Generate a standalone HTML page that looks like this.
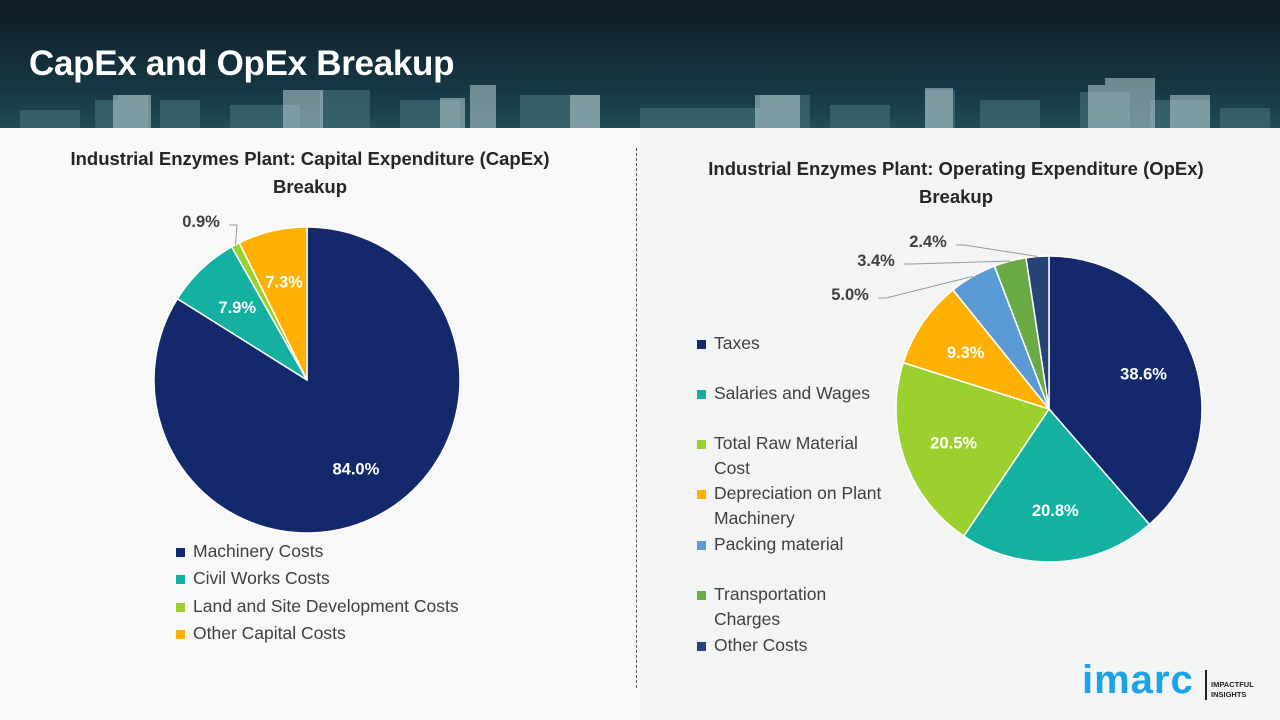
<!DOCTYPE html>
<html><head><meta charset="utf-8">
<style>
body{margin:0;width:1280px;height:720px;overflow:hidden;font-family:"Liberation Sans",sans-serif;background:#f5f5f5;position:relative}
#hdr{position:absolute;left:0;top:0;width:1280px;height:128px;background:linear-gradient(#0e1b23,#163845 70%,#1f4c57)}
#hdr h1{position:absolute;left:29px;top:44px;margin:0;color:#fff;font-size:35px;font-weight:bold;letter-spacing:-0.3px}
.ct{position:absolute;font-weight:bold;font-size:18.5px;color:#262626;text-align:center;line-height:28px}
.leg{position:absolute;font-size:17.5px;color:#404040;line-height:25px}
.leg div{position:relative;padding-left:17px}
.leg span.sw{position:absolute;left:0;top:9px;width:9px;height:9px}
</style></head><body>
<div id="hdr">
<svg width="1280" height="128" style="position:absolute;left:0;top:0">
<g fill="#3e6b75" opacity="0.7">
<rect x="20" y="110" width="60" height="18"/><rect x="95" y="100" width="30" height="28"/><rect x="118" y="95" width="30" height="33"/>
<rect x="160" y="100" width="40" height="28"/><rect x="230" y="105" width="70" height="23"/><rect x="320" y="90" width="50" height="38"/>
<rect x="400" y="100" width="60" height="28"/><rect x="520" y="95" width="80" height="33"/><rect x="640" y="108" width="120" height="20"/>
<rect x="760" y="95" width="50" height="33"/><rect x="830" y="105" width="60" height="23"/><rect x="925" y="90" width="30" height="38"/>
<rect x="980" y="100" width="60" height="28"/><rect x="1080" y="92" width="50" height="36"/><rect x="1150" y="100" width="60" height="28"/><rect x="1220" y="108" width="50" height="20"/>
</g>
<g fill="#b9cfd3" opacity="0.55">
<rect x="113" y="95" width="38" height="33"/><rect x="283" y="90" width="40" height="38"/><rect x="440" y="98" width="25" height="30"/>
<rect x="470" y="85" width="26" height="43"/><rect x="570" y="95" width="30" height="33"/><rect x="755" y="95" width="45" height="33"/>
<rect x="925" y="88" width="28" height="40"/><rect x="1088" y="85" width="30" height="43"/><rect x="1105" y="78" width="50" height="50"/><rect x="1170" y="95" width="40" height="33"/>
</g></svg>
<h1>CapEx and OpEx Breakup</h1>
</div>
<div style="position:absolute;left:0;top:128px;width:640px;height:592px;background:#f8f8f8"></div>
<div style="position:absolute;left:640px;top:128px;width:640px;height:592px;background:#f3f4f4"></div>
<div style="position:absolute;left:636px;top:148px;height:540px;border-left:1.5px dashed #555"></div>

<div class="ct" style="left:20px;top:145px;width:580px">Industrial Enzymes Plant: Capital Expenditure (CapEx)<br>Breakup</div>
<div class="ct" style="left:666px;top:155px;width:580px">Industrial Enzymes Plant: Operating Expenditure (OpEx)<br>Breakup</div>

<svg id="chart" width="1280" height="720" style="position:absolute;left:0;top:0"></svg>

<div class="leg" style="left:176px;top:538px;line-height:27.3px">
<div><span class="sw" style="background:#13296b;top:10px"></span>Machinery Costs</div>
<div><span class="sw" style="background:#14b1a1;top:10px"></span>Civil Works Costs</div>
<div><span class="sw" style="background:#9bd02f;top:10px"></span>Land and Site Development Costs</div>
<div><span class="sw" style="background:#ffb000;top:10px"></span>Other Capital Costs</div>
</div>
<div class="leg" style="left:697px;top:331px;width:200px">
<div style="height:50px"><span class="sw" style="background:#13296b"></span>Taxes</div>
<div style="height:50px"><span class="sw" style="background:#14b1a1"></span>Salaries and Wages</div>
<div style="height:50px"><span class="sw" style="background:#9bd02f"></span>Total Raw Material Cost</div>
<div style="height:51px"><span class="sw" style="background:#ffb000"></span>Depreciation on Plant Machinery</div>
<div style="height:50px"><span class="sw" style="background:#5b9bd5"></span>Packing material</div>
<div style="height:51px"><span class="sw" style="background:#6aab45"></span>Transportation Charges</div>
<div><span class="sw" style="background:#264478"></span>Other Costs</div>
</div>

<div style="position:absolute;left:1082px;top:658px;font-size:40px;font-weight:bold;color:#1aa3e8;letter-spacing:1px">imarc</div>
<div style="position:absolute;left:1205px;top:670px;height:30px;border-left:2px solid #222"></div>
<div style="position:absolute;left:1211px;top:680px;font-size:7.5px;font-weight:bold;color:#222;line-height:10px">IMPACTFUL<br>INSIGHTS</div>

<script>
const capexCategories=["Machinery Costs","Civil Works Costs","Land and Site Development Costs","Other Capital Costs"];
const capexValues=[84.0,7.9,0.9,7.3];
const capexColors=["#13296b","#14b1a1","#9bd02f","#ffb000"];
const opexCategories=["Taxes","Salaries and Wages","Total Raw Material Cost","Depreciation on Plant Machinery","Packing material","Transportation Charges","Other Costs"];
const opexValues=[38.6,20.8,20.5,9.3,5.0,3.4,2.4];
const opexColors=["#13296b","#14b1a1","#9bd02f","#ffb000","#5b9bd5","#6aab45","#264478"];
const NS="http://www.w3.org/2000/svg";
const svg=document.getElementById('chart');
function pt(cx,cy,r,a){return [cx+r*Math.sin(a),cy-r*Math.cos(a)];}
function pie(cx,cy,R,vals,cols,cats,prefix,outside){
  const tot=vals.reduce((a,b)=>a+b,0);let a0=0;
  vals.forEach((v,i)=>{
    const a1=a0+v/tot*2*Math.PI;
    const p0=pt(cx,cy,R,a0),p1=pt(cx,cy,R,a1);
    const path=document.createElementNS(NS,'path');
    path.setAttribute('d',`M${cx},${cy}L${p0[0]},${p0[1]}A${R},${R} 0 ${a1-a0>Math.PI?1:0} 1 ${p1[0]},${p1[1]}Z`);
    path.setAttribute('fill',cols[i]);path.setAttribute('stroke','#fff');path.setAttribute('stroke-width','1.5');
    
    
    svg.appendChild(path);
    const mid=(a0+a1)/2;
    const t=document.createElementNS(NS,'text');
    let lp;
    if(outside[i]){
      lp=outside[i];
      const e=pt(cx,cy,R,mid);
      const ln=document.createElementNS(NS,'polyline');
      ln.setAttribute('points',`${lp[0]+26},${lp[1]+4} ${lp[0]+34},${lp[1]+4} ${e[0]},${e[1]}`);
      ln.setAttribute('fill','none');ln.setAttribute('stroke','#999');ln.setAttribute('stroke-width','1');
      
      
      svg.appendChild(ln);
      t.setAttribute('fill','#404040');
      t.setAttribute('x',lp[0]-2);t.setAttribute('y',lp[1]+6);
      t.setAttribute('text-anchor','middle');
    } else {
      lp=pt(cx,cy,R*0.66,mid);
      t.setAttribute('fill','#fff');
      t.setAttribute('x',lp[0]);t.setAttribute('y',lp[1]+6);
      t.setAttribute('text-anchor','middle');
    }
    t.setAttribute('font-size','16.5');t.setAttribute('font-weight','bold');
    t.setAttribute('font-family','Liberation Sans, sans-serif');
    t.textContent=v.toFixed(1)+'%';
    
    
    svg.appendChild(t);
    a0=a1;
  });
}
pie(307,380,153,capexValues,capexColors,capexCategories,'capex',[null,null,[203,221],null]);
pie(1049,409,153,opexValues,opexColors,opexCategories,'opex',[null,null,null,null,[852,294],[878,260],[930,241]]);
</script>
</body></html>
